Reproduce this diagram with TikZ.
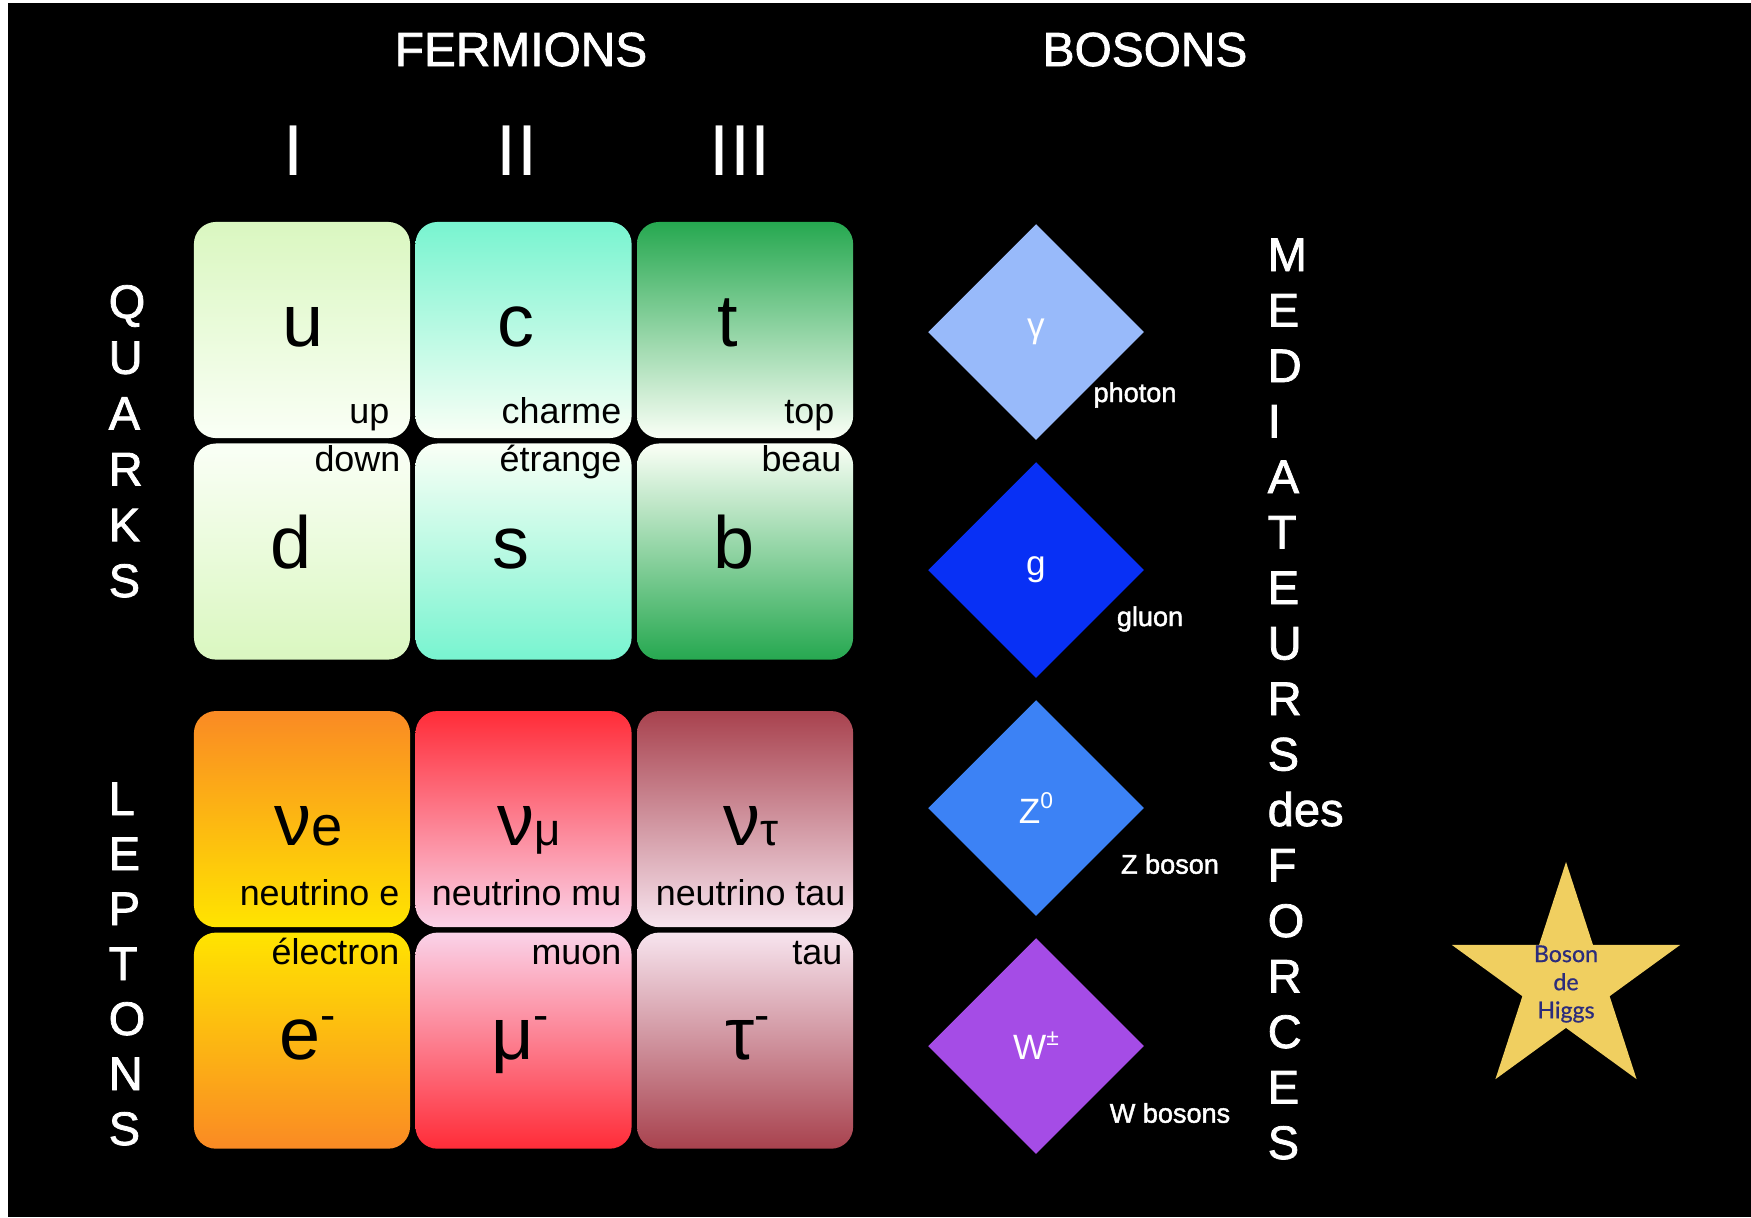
\documentclass[tikz,border=0pt]{standalone}
\usepackage{fontspec}
\setmainfont{Liberation Sans}
\newfontfamily\heavyfont{Liberation Sans}[FakeBold=1.6]
\newfontfamily\higgsfont{Lato}[FakeBold=0.6]
\usetikzlibrary{positioning, shapes.geometric}

\definecolor{upgreen}{RGB}{218,247,192}
\definecolor{chaqua}{RGB}{120,244,208}
\definecolor{topgreen}{RGB}{38,168,80}
\definecolor{paleend}{RGB}{250,255,246}
\definecolor{neorange}{RGB}{250,138,36}
\definecolor{neyellow}{RGB}{255,228,0}
\definecolor{mured}{RGB}{255,44,56}
\definecolor{mupink}{RGB}{250,210,232}
\definecolor{taurose}{RGB}{168,66,78}
\definecolor{taupale}{RGB}{247,228,238}
\definecolor{photonblue}{RGB}{152,186,250}
\definecolor{gluonblue}{RGB}{8,48,245}
\definecolor{zblue}{RGB}{60,130,245}
\definecolor{wviolet}{RGB}{165,76,230}
\definecolor{higgsgold}{RGB}{240,207,96}
\definecolor{higgsnavy}{RGB}{44,44,124}

\newcommand\lowsub[2]{{\fontsize{#1}{#1}\selectfont #2}}
\newcommand\highsup[1]{\raisebox{8pt}{\fontsize{13}{13}\selectfont #1}}
\newcommand\bsup[1]{\raisebox{0.4em}{\fontsize{6.5}{6.5}\selectfont #1}}

\begin{document}
\begin{tikzpicture}[x=0.01cm, y=-0.01cm,
    cell/.style={rounded corners=0.22cm, minimum width=2.16cm, minimum height=2.16cm,
                 inner sep=0pt},
    flav/.style={font=\fontsize{21}{24}\selectfont, inner sep=0pt, anchor=base},
    tag/.style={font=\fontsize{10.2}{12}\selectfont, inner sep=0pt, anchor=base east},
    head/.style={font=\heavyfont\fontsize{13.6}{16}\selectfont, text=white, inner sep=0pt, anchor=base},
    gen/.style={font=\fontsize{20.5}{24}\selectfont, text=white, inner sep=0pt, anchor=base},
    vlet/.style={font=\heavyfont\fontsize{13.4}{16}\selectfont, text=white, inner sep=0pt, anchor=base west},
    boson/.style={diamond, aspect=1, minimum width=2.16cm, minimum height=2.16cm,
                  inner sep=0pt, text=white, font=\fontsize{10}{12}\selectfont},
    bname/.style={text=white, font=\heavyfont\fontsize{7.7}{9}\selectfont, inner sep=0pt}
]
    \fill[white] (0,0) rectangle (1751,1217);
    \fill[black] (8,3) rectangle (1751,1217);
    \useasboundingbox (0,0) rectangle (1751,1217);

    % headers
    \node[head] (fermions) at (521,66) {FERMIONS};
    \node[head] (bosons) at (1145,66) {BOSONS};
    \node[gen] (genI) at (294,175) {I};
    \node[gen] (genII) at (517,175) {II};
    \node[gen] (genIII) at (740,175) {III};

    % quark cells
    \node[cell, top color=upgreen, bottom color=paleend] (cu) at (302,330) {};
    \node[cell, top color=chaqua, bottom color=paleend, right=0.04cm of cu] (cc) {};
    \node[cell, top color=topgreen, bottom color=paleend, right=0.04cm of cc] (ct) {};
    \node[cell, top color=paleend, bottom color=upgreen, below=0.04cm of cu] (cd) {};
    \node[cell, top color=paleend, bottom color=chaqua, below=0.04cm of cc] (cs) {};
    \node[cell, top color=paleend, bottom color=topgreen, below=0.04cm of ct] (cb) {};

    % lepton cells
    \node[cell, top color=neorange, bottom color=neyellow, below=0.5cm of cd] (cnue) {};
    \node[cell, top color=mured, bottom color=mupink, right=0.04cm of cnue] (cnumu) {};
    \node[cell, top color=taurose, bottom color=taupale, right=0.04cm of cnumu] (cnutau) {};
    \node[cell, top color=neyellow, bottom color=neorange, below=0.04cm of cnue] (ce) {};
    \node[cell, top color=mupink, bottom color=mured, below=0.04cm of cnumu] (cmu) {};
    \node[cell, top color=taupale, bottom color=taurose, below=0.04cm of cnutau] (ctau) {};

    % flavour symbols
    \node[flav] (u) at (303,346) {u};
    \node[flav] (c) at (516,346) {c};
    \node[flav] (t) at (728,346) {t};
    \node[flav] (d) at (291,568) {d};
    \node[flav] (s) at (511,568) {s};
    \node[flav] (b) at (734,568) {b};
    \node[flav] (nue) at (309,845) {ν\lowsub{16}{e}};
    \node[flav] (numu) at (529,845) {ν\lowsub{13}{μ}};
    \node[flav] (nutau) at (751,845) {ν\lowsub{13}{τ}};
    \node[flav] (e) at (308,1059) {e\highsup{-}};
    \node[flav] (mu) at (520,1059) {μ\highsup{-}};
    \node[flav] (tau) at (748,1059) {τ\highsup{-}};

    % names
    \node[tag] (tup) at (390,423) {up};
    \node[tag] (tcharme) at (622,423) {charme};
    \node[tag] (ttop) at (835,423) {top};
    \node[tag] (tdown) at (401,471) {down};
    \node[tag] (tetrange) at (622,471) {étrange};
    \node[tag] (tbeau) at (842,471) {beau};
    \node[tag] (tnue) at (400,905) {neutrino e};
    \node[tag] (tnumu) at (622,905) {neutrino mu};
    \node[tag] (tnutau) at (846,905) {neutrino tau};
    \node[tag] (telectron) at (400,964) {électron};
    \node[tag] (tmuon) at (622,964) {muon};
    \node[tag] (ttau) at (843,964) {tau};

    % vertical words
    \foreach \l [count=\i from 0] in {Q,U,A,R,K,S}
        \node[vlet] (quark\i) at (108,318+55.8*\i) {\l};
    \foreach \l [count=\i from 0] in {L,E,P,T,O,N,S}
        \node[vlet] (lepton\i) at (108,815+55*\i) {\l};
    \foreach \l [count=\i from 0] in {M,E,D,I,A,T,E,U,R,S,des,F,O,R,C,E,S}
        \node[vlet] (med\i) at (1267,271+55.5*\i) {\l};

    % bosons
    \node[boson, fill=photonblue] (gamma) at (1036,332) {γ};
    \node[boson, fill=gluonblue] (gluon) at (1036,570) {g};
    \node[boson, fill=zblue] (zzero) at (1036,808) {Z\bsup{0}};
    \node[boson, fill=wviolet] (wpm) at (1036,1046) {W\bsup{±}};
    \node[bname] (nphoton) at (1135,395) {photon};
    \node[bname] (ngluon) at (1150,619) {gluon};
    \node[bname] (nz) at (1170,864) {Z boson};
    \node[bname] (nw) at (1170,1113) {W bosons};

    % Higgs
    \node[star, star points=5, star point ratio=2.618, minimum size=2.4cm,
          inner sep=0pt, fill=higgsgold] (higgs) at (1566,982) {};
    \node[font=\higgsfont\fontsize{6.6}{8}\selectfont, text=higgsnavy, align=center]
          (higgstext) at (1566,984) {Boson\\de\\Higgs};
\end{tikzpicture}
\end{document}
